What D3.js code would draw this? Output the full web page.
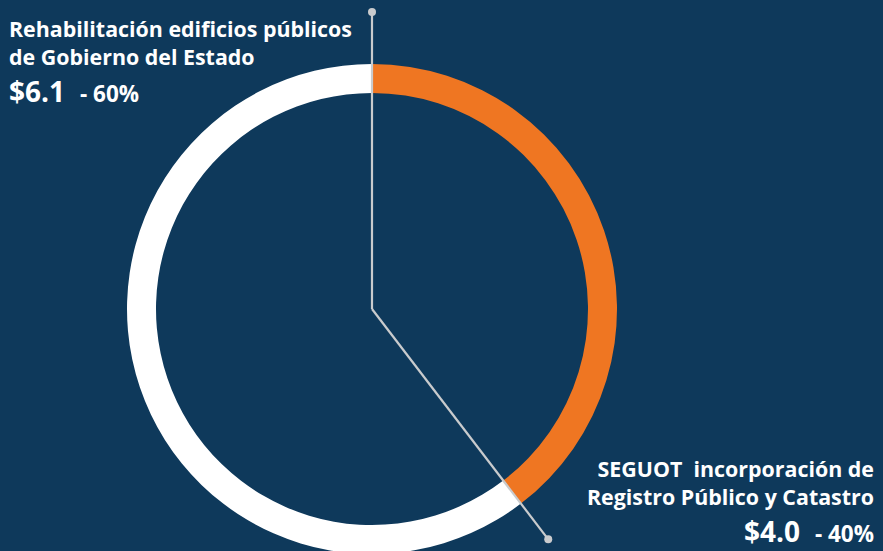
<!DOCTYPE html>
<html>
<head>
<meta charset="utf-8">
<script src="https://cdn.jsdelivr.net/npm/d3@7/dist/d3.min.js"></script>
<style>
  html, body { margin: 0; padding: 0; background: #0e395b; }
  svg { display: block; }
  text { font-family: "Open Sans", Lato, sans-serif; font-weight: 700; fill: #ffffff; white-space: pre; }
</style>
</head>
<body>
<svg id="chart" width="883" height="551"></svg>
<script>
// Budget split (millions of pesos)
const categories = ["SEGUOT  incorporación de|Registro Público y Catastro", "Rehabilitación edificios públicos|de Gobierno del Estado"];
const values = [4.0, 6.1];
const percentLabels = ["40%", "60%"];
const amountLabels = ["$4.0", "$6.1"];
const colors = ["#ef7622", "#ffffff"];

const W = 883, H = 551;
const cx = 372, cy = 309;
const outerR = 245, innerR = 216;

const svg = d3.select("#chart");
svg.append("rect").attr("width", W).attr("height", H).attr("fill", "#0e395b");

const data = categories.map((c, i) => ({ name: c, value: values[i], pct: percentLabels[i], amount: amountLabels[i], color: colors[i] }));

const pie = d3.pie().sort(null).value(d => d.value);
const arcs = pie(data);
const arc = d3.arc().innerRadius(innerR).outerRadius(outerR);

const g = svg.append("g").attr("transform", `translate(${cx},${cy})`);

g.selectAll("path.slice")
  .data(arcs)
  .join("path")
  .attr("class", "slice")
  .attr("d", arc)
  .attr("fill", d => d.data.color);

// Leader lines running along each slice boundary
const leaderR = [290, 297];
const leaders = arcs.map((a, i) => ({ angle: a.endAngle, r: leaderR[i] }));
g.selectAll("line.leader")
  .data(leaders)
  .join("line")
  .attr("class", "leader")
  .attr("x1", 0).attr("y1", 0)
  .attr("x2", d => d.r * Math.sin(d.angle))
  .attr("y2", d => -d.r * Math.cos(d.angle))
  .attr("stroke", "#c9cbcd")
  .attr("stroke-width", 2.2);
g.selectAll("circle.leader-dot")
  .data(leaders)
  .join("circle")
  .attr("class", "leader-dot")
  .attr("cx", d => d.r * Math.sin(d.angle))
  .attr("cy", d => -d.r * Math.cos(d.angle))
  .attr("r", 4)
  .attr("fill", "#c9cbcd");

// Labels
function drawLabel(d, x, y, anchor) {
  const lines = d.name.split("|");
  const t = svg.append("text").attr("text-anchor", anchor).attr("font-size", 21.4);
  lines.forEach((ln, i) => {
    t.append("tspan").attr("x", x).attr("y", y + i * 27.5).text(ln);
  });
  const v = svg.append("text").attr("text-anchor", anchor).attr("x", x).attr("y", y + 2 * 27.5 + 10);
  v.append("tspan").attr("font-size", 28).text(d.amount);
  v.append("tspan").attr("font-size", 22.5).attr("dx", 15).text("- " + d.pct);
}
drawLabel(data[1], 9, 37, "start");
drawLabel(data[0], 874, 477, "end");
</script>
</body>
</html>
